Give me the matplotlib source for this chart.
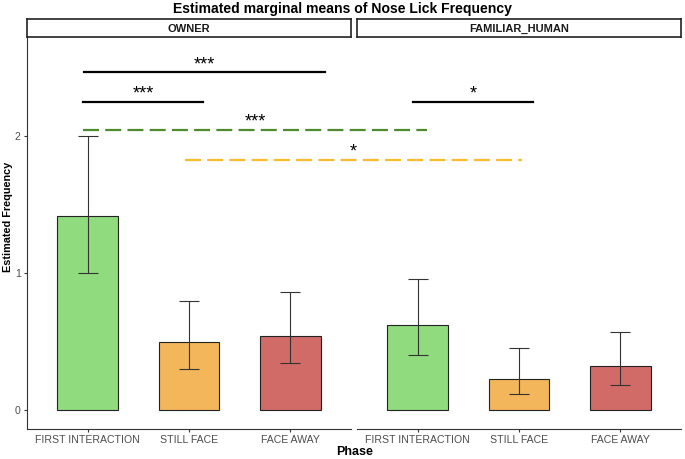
import matplotlib
matplotlib.use("Agg")
import matplotlib.pyplot as plt
from matplotlib.lines import Line2D

plt.rcParams['font.family'] = ['Liberation Sans', 'DejaVu Sans']

phases = ["FIRST INTERACTION", "STILL FACE", "FACE AWAY"]
panels = ["OWNER", "FAMILIAR_HUMAN"]
means = {"OWNER": [1.42, 0.50, 0.54], "FAMILIAR_HUMAN": [0.62, 0.23, 0.32]}
lower = {"OWNER": [1.00, 0.30, 0.34], "FAMILIAR_HUMAN": [0.40, 0.12, 0.18]}
upper = {"OWNER": [2.00, 0.80, 0.86], "FAMILIAR_HUMAN": [0.96, 0.45, 0.57]}
colors = ["#8FDB7E", "#F3B65A", "#D16B68"]
yticks = [0, 1, 2]

# brackets: (panel_start, x_start, panel_end, x_end, y, label, style)
brackets = [
    ("OWNER", 0.96, "OWNER", 3.34, 2.47, "***", "solid_black"),
    ("OWNER", 0.955, "OWNER", 2.14, 2.255, "***", "solid_black"),
    ("FAMILIAR_HUMAN", 0.95, "FAMILIAR_HUMAN", 2.14, 2.255, "*", "solid_black"),
    ("OWNER", 0.955, "FAMILIAR_HUMAN", 1.09, 2.05, "***", "dash_green"),
    ("OWNER", 1.96, "FAMILIAR_HUMAN", 2.03, 1.83, "*", "dash_orange"),
]
styles = {
    "solid_black": dict(color="black", lw=1.6, ls="-"),
    "dash_green": dict(color="#4E8B2C", lw=1.6, dashes=(7.2, 2.8)),
    "dash_orange": dict(color="#F7BC2C", lw=1.6, dashes=(7.2, 2.8)),
}

W, H = 685, 459
fig = plt.figure(figsize=(W / 100, H / 100), dpi=100)

ymin, ymax = -0.139, 2.72
ax_bottom, ax_top = 429, 38
panel_x = [(27, 351), (357, 681)]
axes = {}
for (x0, x1), name in zip(panel_x, panels):
    ax = fig.add_axes([x0 / W, 1 - ax_bottom / H, (x1 - x0) / W, (ax_bottom - ax_top) / H])
    axes[name] = ax
    xs = list(range(1, len(phases) + 1))
    m = means[name]
    ax.bar(xs, m, width=0.6, color=colors, edgecolor="#222222", linewidth=0.8, zorder=2)
    yerr = [[mm - lo for mm, lo in zip(m, lower[name])], [up - mm for mm, up in zip(m, upper[name])]]
    ax.errorbar(xs, m, yerr=yerr, fmt="none", ecolor="#333333", elinewidth=0.8,
                capsize=7.5, capthick=0.8, zorder=3)
    ax.set_xlim(0.4, 3.6)
    ax.set_ylim(ymin, ymax)
    ax.set_xticks(xs)
    ax.set_xticklabels(phases, fontsize=7.6, color="#4D4D4D")
    ax.tick_params(axis="x", length=2.5, color="#333333", pad=2)
    for s in ["top", "right"]:
        ax.spines[s].set_visible(False)
    ax.spines["bottom"].set_color("#333333")
    ax.spines["left"].set_color("#333333")
    if name == "OWNER":
        ax.set_yticks(yticks)
        ax.set_yticklabels([str(t) for t in yticks], fontsize=7.6, color="#4D4D4D")
        ax.tick_params(axis="y", length=2.5, color="#333333", pad=2)
    else:
        ax.spines["left"].set_visible(False)
        ax.set_yticks([])
    ax.patch.set_alpha(0)
    # strip
    sax = fig.add_axes([x0 / W, 1 - 37 / H, (x1 - x0) / W, 18 / H])
    sax.set_xticks([]); sax.set_yticks([])
    for s in sax.spines.values():
        s.set_linewidth(1.2)
        s.set_color("#222222")
    sax.text(0.5, 0.47, name, ha="center", va="center", fontsize=8, fontweight="bold",
             color="#1A1A1A", transform=sax.transAxes)

fig.canvas.draw()

def to_fig(panel, x, y):
    disp = axes[panel].transData.transform((x, y))
    return fig.transFigure.inverted().transform(disp)

for p0, xa, p1, xb, y, lab, st in brackets:
    a = to_fig(p0, xa, y)
    b = to_fig(p1, xb, y)
    ln = Line2D([a[0], b[0]], [a[1], b[1]], transform=fig.transFigure, **styles[st])
    fig.add_artist(ln)
    fig.text((a[0] + b[0]) / 2, a[1] + 3 / H, lab, ha="center", va="baseline", fontsize=13,
             color="black")

fig.text(0.5, 1 - 9 / H, "Estimated marginal means of Nose Lick Frequency", ha="center",
         va="center", fontsize=10.1, fontweight="bold")
fig.text(355 / W, 1 - 452 / H, "Phase", ha="center", va="center", fontsize=9,
         fontweight="bold")
fig.text(8 / W, 1 - 217 / H, "Estimated Frequency", ha="center", va="center", rotation=90,
         fontsize=7.8, fontweight="bold")

fig.savefig("out.png", dpi=100)
